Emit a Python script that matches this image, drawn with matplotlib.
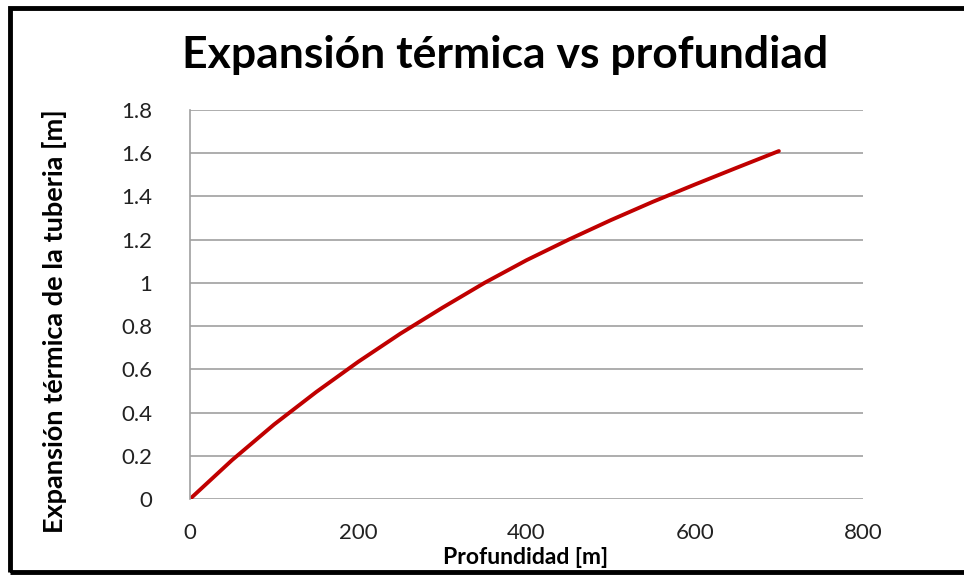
import matplotlib
matplotlib.use("Agg")
import matplotlib.pyplot as plt
from matplotlib.patches import Rectangle

depth = [0, 50, 100, 150, 200, 250, 300, 350, 400, 450, 500, 550, 600, 650, 700]
expansion = [0.0, 0.18, 0.345, 0.495, 0.635, 0.765, 0.885, 1.0, 1.105, 1.2, 1.29, 1.375, 1.455, 1.533, 1.61]
x_ticks = [0, 200, 400, 600, 800]
y_ticks = [0, 0.2, 0.4, 0.6, 0.8, 1, 1.2, 1.4, 1.6, 1.8]
y_tick_labels = ["0", "0.2", "0.4", "0.6", "0.8", "1", "1.2", "1.4", "1.6", "1.8"]

title = "Expansión térmica vs profundiad"
xlabel = "Profundidad [m]"
ylabel = "Expansión térmica de la tuberia [m]"

plt.rcParams['font.family'] = ['Lato', 'DejaVu Sans']

W, H = 964, 575
fig = plt.figure(figsize=(W / 100, H / 100), dpi=100)
fig.patch.set_facecolor("white")

ax = fig.add_axes([190 / W, 1 - 499 / H, (863 - 190) / W, (499 - 110) / H])
ax.plot(depth, expansion, color="#C00000", lw=2.8, solid_capstyle="round",
        solid_joinstyle="round")
ax.set_xlim(0, 800)
ax.set_ylim(0, 1.8)
ax.set_xticks(x_ticks)
ax.set_yticks(y_ticks)
ax.set_yticklabels(y_tick_labels)
ax.tick_params(axis="both", length=0, labelsize=16, colors="#222222")
ax.tick_params(axis="y", pad=27)
ax.tick_params(axis="x", pad=17)
ax.grid(axis="y", color="#A0A0A0", lw=1.2)
ax.set_axisbelow(True)
for s in ["top", "right", "bottom"]:
    ax.spines[s].set_visible(False)
ax.spines["left"].set_color("#A0A0A0")
ax.spines["left"].set_linewidth(1.2)

fig.text(505 / W, 1 - 55 / H, title, ha="center", va="center",
         fontsize=32, fontweight="bold", color="black")
fig.text(526 / W, 1 - 557 / H, xlabel, ha="center", va="center",
         fontsize=16.5, fontweight="bold", color="black")
fig.text(55 / W, 1 - 321 / H, ylabel, ha="center", va="center", rotation=90,
         fontsize=19.5, fontweight="bold", color="black")

fig.patches.append(Rectangle((10 / W, 3 / H), 1.2, 1 - 11 / H, transform=fig.transFigure,
                             fill=False, edgecolor="black", lw=3.5, figure=fig))

fig.savefig("out.png", dpi=100)
